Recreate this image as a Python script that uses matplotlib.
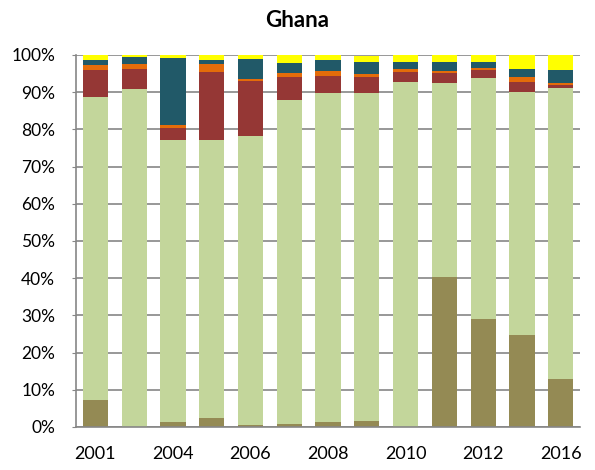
import numpy as np
import matplotlib.pyplot as plt
from matplotlib.ticker import FuncFormatter

plt.rcParams["font.family"] = ["Lato", "DejaVu Sans"]

years = ["2001", "2003", "2004", "2005", "2006", "2007", "2008",
         "2009", "2010", "2011", "2012", "2014", "2016"]

# shares of each component (%), stacked bottom to top
olive  = [7.3, 0.0, 1.3, 2.5, 0.5, 0.8, 1.3, 1.7, 0.0, 40.4, 29.0, 24.6, 13.0]
green  = [81.5, 90.8, 75.9, 74.7, 77.8, 87.0, 88.4, 88.0, 92.8, 52.1, 64.7, 65.4, 78.2]
red    = [7.2, 5.5, 3.3, 18.1, 14.8, 6.2, 4.7, 4.5, 2.7, 2.7, 2.2, 2.8, 0.8]
orange = [1.3, 1.2, 0.6, 2.2, 0.4, 1.2, 1.3, 0.7, 0.7, 0.6, 0.7, 1.2, 0.6]
teal   = [1.4, 1.9, 18.0, 1.2, 5.4, 2.6, 3.0, 3.3, 2.0, 2.2, 1.4, 2.2, 3.4]
yellow = [1.3, 0.6, 0.9, 1.3, 1.1, 2.2, 1.3, 1.6, 1.8, 2.0, 2.0, 3.8, 4.0]

layers = [olive, green, red, orange, teal, yellow]
colors = ["#948A54", "#C3D69B", "#953735", "#E46C0A", "#215968", "#FFFF00"]

fig = plt.figure(figsize=(5.95, 4.7), dpi=100)
ax = fig.add_axes([0.1277, 0.0915, 0.8473, 0.7915])

x = np.arange(len(years))
bottom = np.zeros(len(years))
for vals, c in zip(layers, colors):
    vals = np.array(vals)
    ax.bar(x, vals, 0.65, bottom=bottom, color=c, zorder=2)
    bottom += vals

ax.set_xlim(-0.5, len(years) - 0.5)
ax.set_ylim(0, 100)
ax.set_yticks(np.arange(0, 101, 10))
ax.yaxis.set_major_formatter(FuncFormatter(lambda v, p: f"{v:.0f}%"))
ax.set_xticks(x)
ax.set_xticklabels([y if i % 2 == 0 else "" for i, y in enumerate(years)])
ax.tick_params(axis="x", length=0, pad=14, labelsize=13)
ax.tick_params(axis="y", length=3, color="#868686", labelsize=12.5, pad=12)

ax.grid(axis="y", color="#868686", linewidth=1.2, zorder=0)
ax.set_axisbelow(True)
for side in ["top", "right"]:
    ax.spines[side].set_visible(False)
for side in ["left", "bottom"]:
    ax.spines[side].set_color("#868686")
    ax.spines[side].set_linewidth(1.2)

fig.text(0.5, 0.957, "Ghana", ha="center", va="center",
         fontsize=16, fontweight="bold")

fig.savefig("out.png", dpi=100)
